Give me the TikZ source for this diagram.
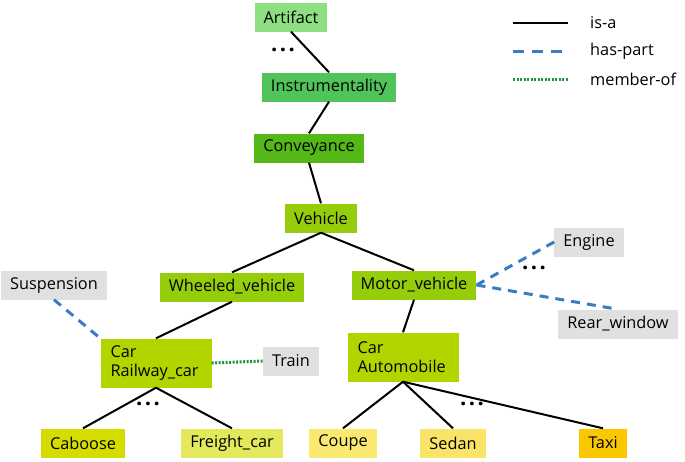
\documentclass[tikz,border=0pt]{standalone}
\usepackage{fontspec}
\setmainfont{Open Sans}
\usetikzlibrary{positioning}

\definecolor{cArtifact}{RGB}{142,222,130}
\definecolor{cInstr}{RGB}{80,196,90}
\definecolor{cConv}{RGB}{84,184,22}
\definecolor{cVeh}{RGB}{150,205,10}
\definecolor{cCar}{RGB}{180,212,0}
\definecolor{cCaboose}{RGB}{212,220,0}
\definecolor{cFreight}{RGB}{228,232,92}
\definecolor{cCoupe}{RGB}{250,232,112}
\definecolor{cSedan}{RGB}{250,228,104}
\definecolor{cTaxi}{RGB}{250,200,0}
\definecolor{cPart}{RGB}{224,224,224}
\definecolor{cHas}{RGB}{58,124,196}
\definecolor{cMember}{RGB}{30,150,60}

\newcommand{\moredots}{.\kern2.5pt.\kern2.5pt.}

\tikzset{
    synset/.style={rectangle, inner xsep=9pt, inner ysep=0pt,
        minimum height=29pt, font=\fontsize{16.3}{19.5}\selectfont},
    twoline/.style={synset, align=left, minimum height=49pt, minimum width=111pt,
        text width=91pt},
    isa/.style={line width=2pt, black},
    haspart/.style={line width=3pt, cHas, dash pattern=on 9pt off 7pt},
    memberof/.style={line width=3pt, cMember, dash pattern=on 2pt off 1.5pt},
    more/.style={font=\fontsize{22}{24}\selectfont\bfseries},
}

\begin{document}
\begin{tikzpicture}[x=1pt, y=-1pt]
    \useasboundingbox (0,0) rectangle (685,461);

    % Obere Kette
    \node[synset, fill=cArtifact] (artifact) at (291,17) {Artifact};
    \node[synset, fill=cInstr] (instr) at (329,87) {Instrumentality};
    \node[synset, fill=cConv] (conv) at (309,148) {Conveyance};
    \node[synset, fill=cVeh] (vehicle) at (321,218) {Vehicle};
    \node[more] (dotsA) at (283,50) {\moredots};

    % Zweite Ebene
    \node[synset, fill=cVeh] (wheeled) at (232,287) {Wheeled\_vehicle};
    \node[synset, fill=cVeh] (motor) at (414,285) {Motor\_vehicle};

    % Teile
    \node[synset, fill=cPart] (suspension) at (54,285) {Suspension};
    \node[synset, fill=cPart] (engine) at (589,242) {Engine};
    \node[synset, fill=cPart] (rear) at (618,324) {Rear\_window};
    \node[synset, fill=cPart] (train) at (291,361) {Train};
    \node[more] (dotsE) at (534,268) {\moredots};

    % Car (zweimal)
    \node[twoline, fill=cCar] (railcar) at (156,363) {Car\\Railway\_car};
    \node[twoline, fill=cCar] (automobile) at (403,357) {Car\\Automobile};

    % Untere Ebene
    \node[synset, fill=cCaboose] (caboose) at (83,443) {Caboose};
    \node[synset, fill=cFreight] (freight) at (232,443) {Freight\_car};
    \node[synset, fill=cCoupe] (coupe) at (343,443) {Coupe};
    \node[synset, fill=cSedan] (sedan) at (453,443) {Sedan};
    \node[synset, fill=cTaxi] (taxi) at (603,443) {Taxi};
    \node[more] (dotsR) at (148,404) {\moredots};
    \node[more] (dotsC) at (472,404) {\moredots};

    % is-a
    \draw[isa] (artifact.south) -- (instr.north);
    \draw[isa] (instr.south) -- (conv.north);
    \draw[isa] (conv.south) -- (vehicle.north);
    \draw[isa] (vehicle.south) -- (wheeled.north);
    \draw[isa] (vehicle.south) -- (motor.north);
    \draw[isa] (wheeled.south) -- (railcar.north);
    \draw[isa] (motor.south) -- (automobile.north);
    \draw[isa] (railcar.south) -- (caboose.north);
    \draw[isa] (railcar.south) -- (freight.north);
    \draw[isa] (automobile.south) -- (coupe.north);
    \draw[isa] (automobile.south) -- (sedan.north);
    \draw[isa] (automobile.south) -- (taxi.north);

    % has-part
    \draw[haspart] (suspension.south) -- (railcar.north west);
    \draw[haspart] (motor.east) -- (engine.west);
    \draw[haspart] (motor.east) -- (rear.north);

    % member-of
    \draw[memberof] (railcar.east) -- (train.west);

    % Legende
    \coordinate (l1a) at (513,23);
    \coordinate (l1b) at (568,23);
    \coordinate (l2a) at (513,51);
    \coordinate (l2b) at (568,51);
    \coordinate (l3a) at (513,79);
    \coordinate (l3b) at (568,79);
    \draw[isa] (l1a) -- (l1b);
    \draw[haspart, dash pattern=on 11pt off 8pt] (l2a) -- (l2b);
    \draw[memberof] (l3a) -- (l3b);
    \node[synset, anchor=west, inner xsep=0pt] (isatext) at (590,23) {is-a};
    \node[synset, anchor=west, inner xsep=0pt] (hastext) at (590,51) {has-part};
    \node[synset, anchor=west, inner xsep=0pt] (memtext) at (590,79) {member-of};
\end{tikzpicture}
\end{document}
